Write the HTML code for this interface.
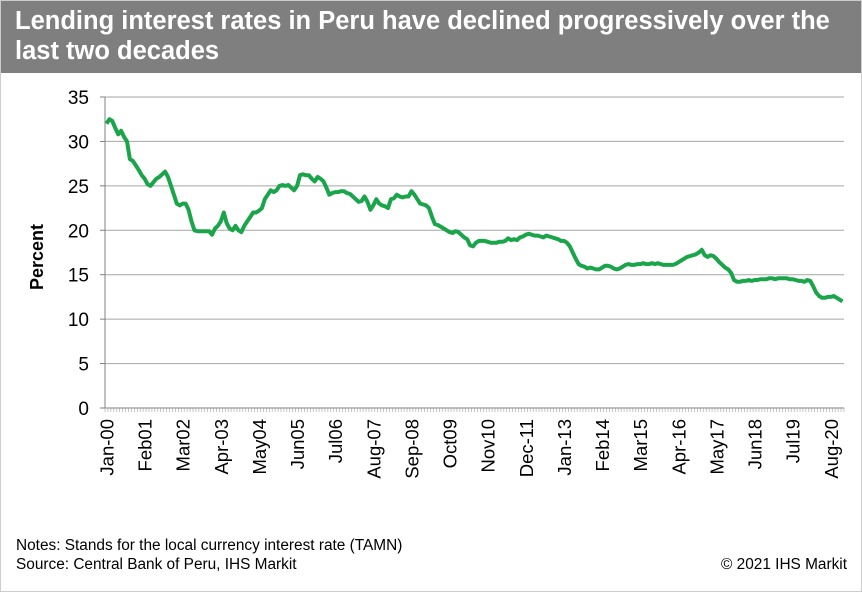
<!DOCTYPE html>
<html><head><meta charset="utf-8"><style>
body{margin:0;background:#fff;font-family:"Liberation Sans",Arial,sans-serif;}
#wrap{position:relative;width:862px;height:592px;overflow:hidden;border:1px solid #ccc;box-sizing:border-box}
#title{position:absolute;left:0;top:0;width:862px;height:72px;background:#7f7f7f;color:#fff;font-weight:bold;font-size:25.5px;line-height:30px;padding:5px 14px;box-sizing:border-box}
.note{position:absolute;font-size:15.4px;color:#000}
</style></head><body>
<div id="wrap">
<div id="title">Lending interest rates in Peru have declined progressively over the last two decades</div>
<svg id="chart" width="862" height="592" style="position:absolute;left:0;top:0"></svg>
<div class="note" style="left:15px;top:536px">Notes: Stands for the local currency interest rate (TAMN)</div>
<div class="note" style="left:15px;top:555px">Source: Central Bank of Peru, IHS Markit</div>
<div class="note" style="right:14px;top:555px">© 2021 IHS Markit</div>
</div>
<script>
const yTicks=[0,5,10,15,20,25,30,35];
const xLabels=["Jan-00","Feb01","Mar02","Apr-03","May04","Jun05","Jul06","Aug-07","Sep-08","Oct09","Nov10","Dec-11","Jan-13","Feb14","Mar15","Apr-16","May17","Jun18","Jul19","Aug-20"];
const rates=[
32,32.5,32.3,31.5,30.8,31.2,30.5,30,28,27.8,27.3,26.8,
26.2,25.8,25.2,25,25.4,25.8,26,26.3,26.6,26,25,24,
23,22.8,23,23,22.3,21,20,19.9,19.9,19.9,19.9,19.9,
19.5,20.2,20.5,21,22,20.8,20.2,20,20.5,20,19.8,20.5,
21,21.5,22,22,22.2,22.5,23.5,24,24.5,24.3,24.5,25,
25.1,25,25.1,24.8,24.5,25,26.2,26.3,26.2,26.2,25.8,25.5,
26,25.8,25.5,24.8,24,24.2,24.3,24.3,24.4,24.4,24.2,24.1,
23.8,23.5,23.2,23.3,23.8,23.2,22.3,22.8,23.5,23,22.8,22.7,
22.5,23.5,23.6,24,23.8,23.7,23.8,23.8,24.4,24,23.5,23,
22.9,22.8,22.5,21.5,20.7,20.6,20.4,20.2,20,19.8,19.7,19.9,
19.8,19.5,19.2,19,18.3,18.2,18.6,18.8,18.8,18.8,18.7,18.6,
18.6,18.6,18.7,18.7,18.8,19.1,18.9,19,18.9,19.2,19.3,19.5,
19.6,19.5,19.4,19.4,19.3,19.2,19.4,19.3,19.2,19.1,19,18.8,
18.8,18.6,18.2,17.5,16.8,16.2,16,15.9,15.7,15.8,15.7,15.6,
15.6,15.8,16,16,15.9,15.7,15.6,15.7,15.9,16.1,16.2,16.1,
16.1,16.2,16.2,16.3,16.2,16.2,16.3,16.2,16.3,16.2,16.1,16.1,
16.1,16.1,16.2,16.4,16.6,16.8,17,17.1,17.2,17.3,17.5,17.8,
17.2,17.0,17.2,17.1,16.8,16.4,16.1,15.8,15.6,15.2,14.4,14.2,
14.2,14.3,14.3,14.4,14.3,14.4,14.4,14.5,14.5,14.5,14.6,14.6,
14.5,14.6,14.6,14.6,14.6,14.5,14.5,14.4,14.3,14.3,14.2,14.4,
14.3,13.7,13.0,12.6,12.4,12.4,12.5,12.5,12.6,12.4,12.2,12.0];
const NS="http://www.w3.org/2000/svg";
const svg=document.getElementById('chart');
const X0=104,X1=843,Y0=407,Y1=96,yMax=35;
const n=rates.length;
const step=(X1-X0)/n;
const xPos=i=>X0+step*(i+0.5);
const yPos=v=>Y0-(v/yMax)*(Y0-Y1);
function mk(t,a){const e=document.createElementNS(NS,t);for(const k in a)e.setAttribute(k,a[k]);svg.appendChild(e);return e;}
yTicks.forEach(v=>{
 if(v>0){const g=mk('line',{x1:X0,x2:X1,y1:yPos(v),y2:yPos(v),stroke:'#a6a6a6','stroke-width':1});
 
 }
 const tk=mk('line',{x1:X0-5,x2:X0,y1:yPos(v),y2:yPos(v),stroke:'#808080'});
 
 
 const t=mk('text',{x:X0-16,y:yPos(v)+7,'text-anchor':'end','font-size':19,fill:'#000','font-family':'Liberation Sans'});
 t.textContent=v;
 
 
});
const ya=mk('line',{x1:X0,x2:X0,y1:Y1,y2:Y0,stroke:'#808080'});


const xa=mk('line',{x1:X0,x2:X1,y1:Y0,y2:Y0,stroke:'#808080'});


for(let i=0;i<=n;i++){const tk=mk('line',{x1:X0+step*i,x2:X0+step*i,y1:Y0,y2:Y0+4,stroke:'#a0a0a0','stroke-width':0.6});
 
 }
xLabels.forEach((l,k)=>{const x=xPos(k*13);
 const t=mk('text',{x:0,y:0,'text-anchor':'end','font-size':18.5,fill:'#000','font-family':'Liberation Sans',transform:`translate(${x+7},${Y0+11}) rotate(-90)`});
 t.textContent=l;
 
 });
const yt=mk('text',{x:0,y:0,'text-anchor':'middle','font-size':18,'font-weight':'bold',fill:'#000','font-family':'Liberation Sans',transform:`translate(42,256) rotate(-90)`});
yt.textContent='Percent';


const p=mk('polyline',{points:rates.map((v,i)=>xPos(i).toFixed(1)+','+yPos(v).toFixed(1)).join(' '),fill:'none',stroke:'#1aa54a','stroke-width':4,'stroke-linejoin':'round'});


</script>
</body></html>
